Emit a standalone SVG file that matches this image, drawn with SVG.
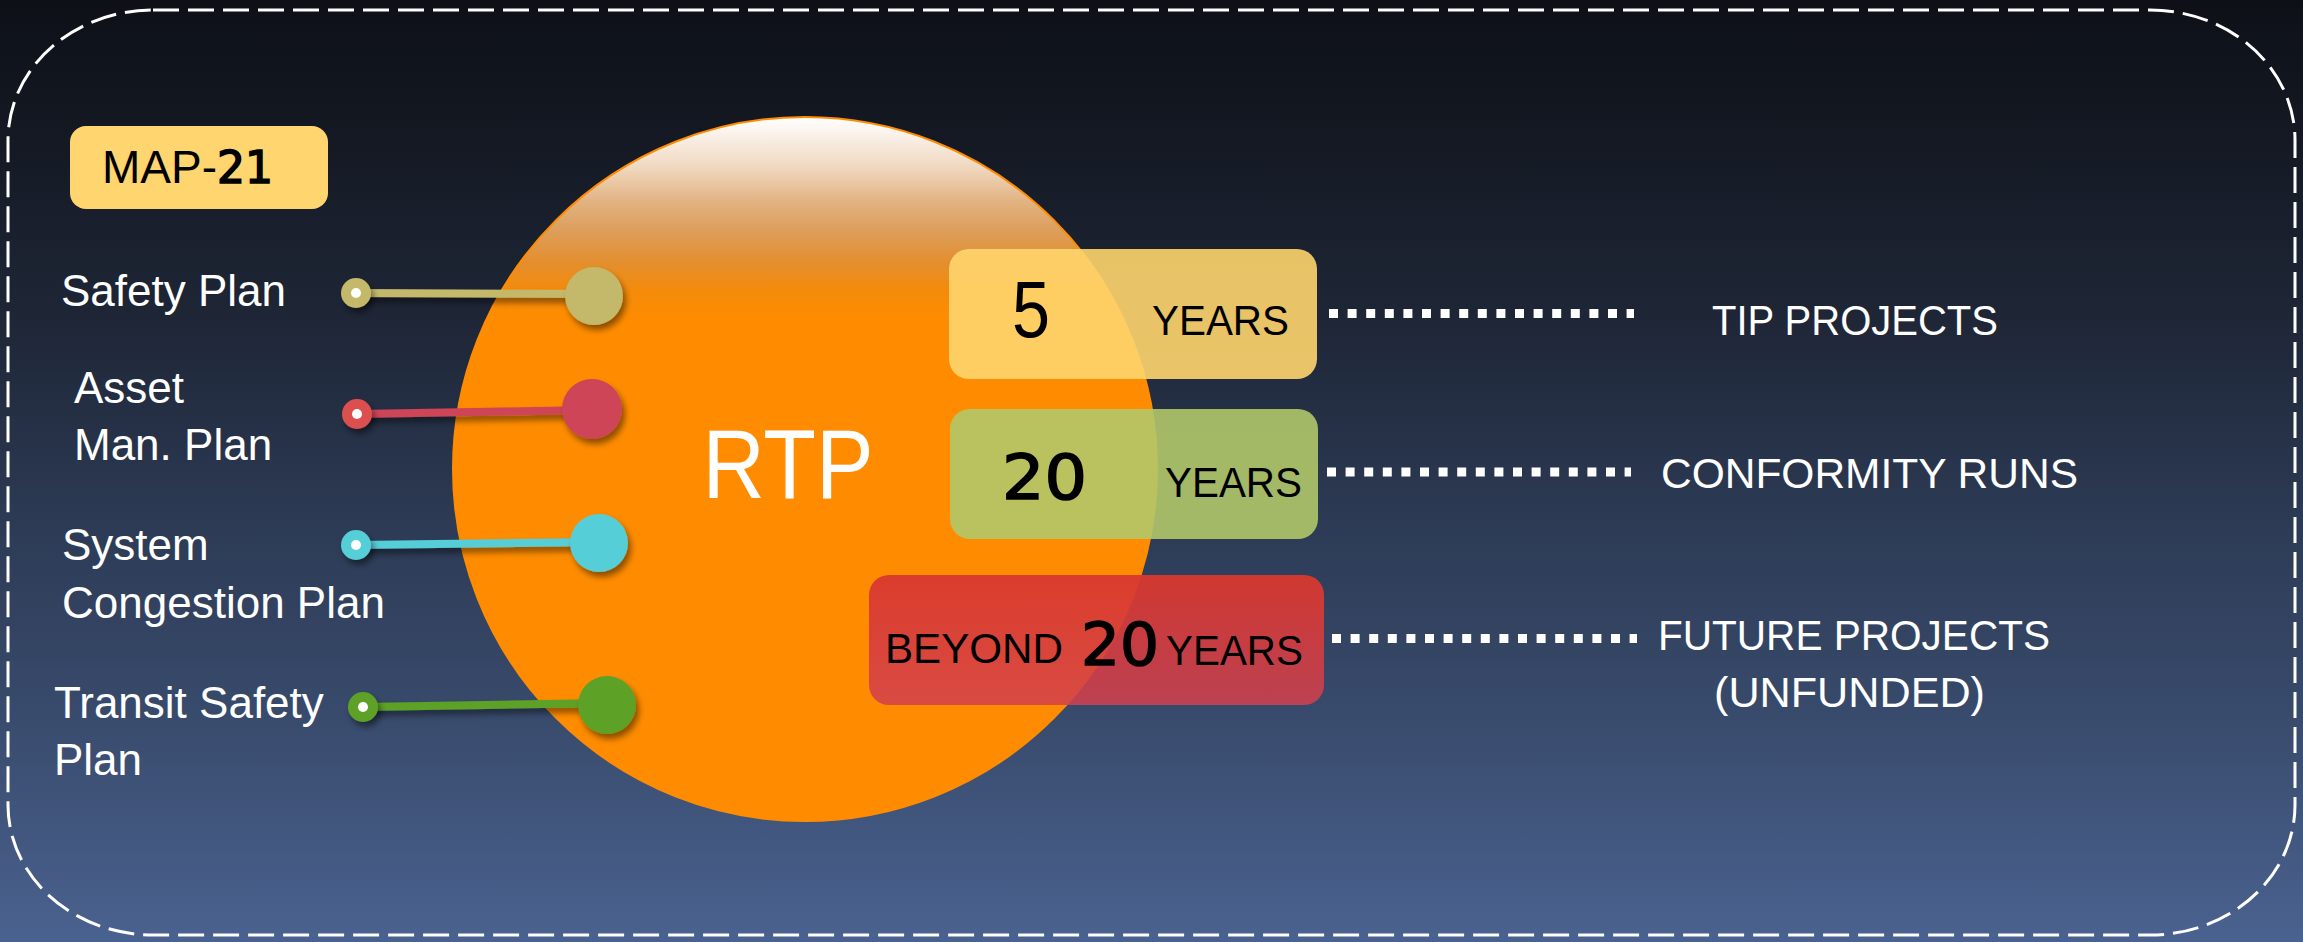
<svg xmlns="http://www.w3.org/2000/svg" width="2303" height="942" viewBox="0 0 2303 942">
<defs>
<linearGradient id="bg" x1="0" y1="0" x2="0" y2="1">
<stop offset="0" stop-color="#0d1017"/>
<stop offset="0.15" stop-color="#141923"/>
<stop offset="0.35" stop-color="#1f2738"/>
<stop offset="0.55" stop-color="#2c3a54"/>
<stop offset="0.75" stop-color="#384a6b"/>
<stop offset="1" stop-color="#4a6290"/>
</linearGradient>
<linearGradient id="sun" x1="0" y1="0" x2="0" y2="1">
<stop offset="0" stop-color="#ffffff"/>
<stop offset="0.07" stop-color="#f0d9c2"/>
<stop offset="0.12" stop-color="#e2b382"/>
<stop offset="0.16" stop-color="#dc9f5c"/>
<stop offset="0.205" stop-color="#e38f30"/>
<stop offset="0.245" stop-color="#f38b0c"/>
<stop offset="0.285" stop-color="#ff8c00"/>
<stop offset="1" stop-color="#ff8c00"/>
</linearGradient>
<linearGradient id="redbox" x1="0" y1="0" x2="0" y2="1">
<stop offset="0" stop-color="#d9382e" stop-opacity="0.95"/>
<stop offset="1" stop-color="#d2404e" stop-opacity="0.86"/>
</linearGradient>
<filter id="shadow" x="-20%" y="-50%" width="140%" height="200%">
<feDropShadow dx="3" dy="5" stdDeviation="3" flood-color="#000" flood-opacity="0.45"/>
</filter>
</defs>
<style>
.lbl{font-family:"Liberation Sans",Arial,sans-serif;font-size:44px;fill:#fff}
.cap{font-family:"Liberation Sans",Arial,sans-serif;font-size:43px;fill:#fff}
.blk{font-family:"Liberation Sans",Arial,sans-serif;font-size:43px;fill:#000}
.num{font-family:"DejaVu Sans",sans-serif;fill:#000;stroke:#000;stroke-width:1.6}
.dots{stroke:#fff;stroke-width:9;stroke-dasharray:9 9.6;fill:none}
.pinline{stroke-width:8;stroke-linecap:butt;fill:none}
</style>
<rect x="0" y="0" width="2303" height="942" fill="url(#bg)"/>
<rect x="8" y="10" width="2287" height="925" rx="145" ry="130" fill="none" stroke="#fff" stroke-width="3" stroke-dasharray="26 9"/>

<g id="rtp">
<circle cx="805" cy="469" r="352" fill="url(#sun)" stroke="#ff8c00" stroke-width="2"/>
<text x="788" y="498" text-anchor="middle" font-family="'Liberation Sans',Arial,sans-serif" font-size="98" fill="#fff" textLength="171" lengthAdjust="spacingAndGlyphs">RTP</text>
</g>

<g id="map21">
<rect x="70" y="126" width="258" height="83" rx="16" fill="#ffd56f"/>
<text x="102" y="183" font-family="'Liberation Sans',Arial,sans-serif" font-size="46" fill="#000">MAP-<tspan class="num" font-size="44" stroke-width="1.2">21</tspan></text>
</g>

<g id="connectors">
<g filter="url(#shadow)">
<line class="pinline" x1="356" y1="293" x2="594" y2="294" stroke="#c4b96b"/>
<line class="pinline" x1="357" y1="414" x2="592" y2="410" stroke="#cf4459"/>
<line class="pinline" x1="356" y1="545" x2="599" y2="542" stroke="#57ced7"/>
<line class="pinline" x1="363" y1="707" x2="607" y2="703" stroke="#5da226"/>
</g>
<line class="dots" x1="1329" y1="313.5" x2="1634" y2="313.5"/>
<line class="dots" x1="1327" y1="472" x2="1631" y2="472"/>
<line class="dots" x1="1332" y1="638.5" x2="1637" y2="638.5"/>
</g>

<g id="safety-plan">
<g filter="url(#shadow)">
<circle cx="356" cy="293" r="15" fill="#c4b96b"/>
<circle cx="594" cy="296" r="29" fill="#c4b96b"/>
</g>
<circle cx="356" cy="293" r="5" fill="#fff"/>
<text class="lbl" x="61" y="306">Safety Plan</text>
</g>

<g id="asset-plan">
<g filter="url(#shadow)">
<circle cx="357" cy="414" r="15" fill="#dc5050"/>
<circle cx="592" cy="409" r="30" fill="#cf4459"/>
</g>
<circle cx="357" cy="414" r="5" fill="#fff"/>
<text class="lbl" x="74" y="403">Asset</text>
<text class="lbl" x="74" y="460">Man. Plan</text>
</g>

<g id="congestion-plan">
<g filter="url(#shadow)">
<circle cx="356" cy="545" r="15" fill="#57ced7"/>
<circle cx="599" cy="543" r="29" fill="#57ced7"/>
</g>
<circle cx="356" cy="545" r="5" fill="#fff"/>
<text class="lbl" x="62" y="560">System</text>
<text class="lbl" x="62" y="618">Congestion Plan</text>
</g>

<g id="transit-plan">
<g filter="url(#shadow)">
<circle cx="363" cy="707" r="15" fill="#5da226"/>
<circle cx="607" cy="705" r="29" fill="#5da226"/>
</g>
<circle cx="363" cy="707" r="5" fill="#fff"/>
<text class="lbl" x="54" y="718">Transit Safety</text>
<text class="lbl" x="54" y="775">Plan</text>
</g>

<g id="box-5">
<rect x="949" y="249" width="368" height="130" rx="20" fill="#ffd56d" fill-opacity="0.9"/>
<text x="1031" y="337" text-anchor="middle" font-family="'Liberation Sans',Arial,sans-serif" font-size="80" fill="#000" textLength="38" lengthAdjust="spacingAndGlyphs">5</text>
<text class="blk" x="1152" y="335" textLength="137" lengthAdjust="spacingAndGlyphs">YEARS</text>
</g>

<g id="box-20">
<rect x="950" y="409" width="368" height="130" rx="20" fill="#b1c869" fill-opacity="0.9"/>
<text class="num" x="1002" y="499" font-size="63" textLength="85" lengthAdjust="spacingAndGlyphs">20</text>
<text class="blk" x="1165" y="497" textLength="137" lengthAdjust="spacingAndGlyphs">YEARS</text>
</g>

<g id="box-beyond">
<rect x="869" y="575" width="455" height="130" rx="20" fill="url(#redbox)"/>
<text class="blk" x="885" y="663" font-size="42" textLength="178" lengthAdjust="spacingAndGlyphs">BEYOND</text>
<text class="num" x="1081" y="665" font-size="58" textLength="78" lengthAdjust="spacingAndGlyphs">20</text>
<text class="blk" x="1166" y="665" textLength="137" lengthAdjust="spacingAndGlyphs">YEARS</text>
</g>

<g id="tip-projects">
<text class="cap" x="1712" y="335" textLength="286" lengthAdjust="spacingAndGlyphs">TIP PROJECTS</text>
</g>
<g id="conformity-runs">
<text class="cap" x="1661" y="488" textLength="417" lengthAdjust="spacingAndGlyphs">CONFORMITY RUNS</text>
</g>
<g id="future-projects">
<text class="cap" x="1658" y="650" textLength="392" lengthAdjust="spacingAndGlyphs">FUTURE PROJECTS</text>
<text class="cap" x="1714" y="707" textLength="271" lengthAdjust="spacingAndGlyphs">(UNFUNDED)</text>
</g>
</svg>
